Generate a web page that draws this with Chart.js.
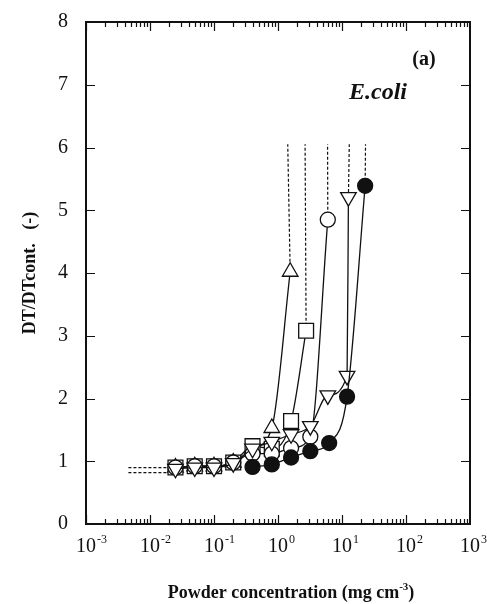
<!DOCTYPE html>
<html>
<head>
<meta charset="utf-8">
<script src="https://cdn.jsdelivr.net/npm/chart.js@4.4.1/dist/chart.umd.min.js"></script>
<style>
  html, body { margin: 0; padding: 0; background: #fff; }
  #wrap { width: 487px; height: 604px; }
</style>
</head>
<body>
<div id="wrap"><canvas id="one" width="487" height="604"></canvas></div>
<script>
  "use strict";

  // data (x = powder concentration mg/cm3, y = DT/DTcont.)
  var triUpX = [0.025, 0.05, 0.1, 0.2, 0.4, 0.8, 1.55];
  var triUpY = [0.9, 0.92, 0.92, 0.98, 1.2, 1.53, 4.02];

  var squareX = [0.025, 0.05, 0.1, 0.2, 0.4, 0.8, 1.6, 2.75];
  var squareY = [0.9, 0.92, 0.92, 0.98, 1.24, 1.2, 1.64, 3.08];

  var circleX = [0.025, 0.05, 0.1, 0.2, 0.4, 0.8, 1.6, 3.2, 6.0];
  var circleY = [0.9, 0.92, 0.92, 0.98, 1.12, 1.12, 1.21, 1.39, 4.85];

  var triDownX = [0.025, 0.05, 0.1, 0.2, 0.4, 0.8, 1.6, 3.2, 6.0, 12.0, 12.6];
  var triDownY = [0.88, 0.9, 0.9, 0.97, 1.2, 1.31, 1.43, 1.56, 2.05, 2.36, 5.21];

  var dotX = [0.4, 0.8, 1.6, 3.2, 6.3, 12.0, 23];
  var dotY = [0.91, 0.95, 1.06, 1.16, 1.29, 2.03, 5.39];

  // dashed asymptote lines (start point -> end point)
  var dashUpX = [[1.55, 1.42], [2.75, 2.65], [6.0, 5.95], [12.6, 13.0], [23, 23.3]];
  var dashUpY = [[4.02, 6.05], [3.08, 6.05], [4.85, 6.05], [5.21, 6.05], [5.39, 6.05]];
  var dashLeftX = [[0.0046, 0.025], [0.0046, 0.025]];
  var dashLeftY = [[0.9, 0.9], [0.82, 0.82]];

  var yTicks = [0, 1, 2, 3, 4, 5, 6, 7, 8];
  var xExps = [-3, -2, -1, 0, 1, 2, 3];

  var SERIF = "'Liberation Serif', 'Times New Roman', serif";
  var INK = "#111";

  function pts(xs, ys) {
    return xs.map(function (v, i) { return { x: v, y: ys[i] }; });
  }

  function series(xs, ys, style, rot, fill, r) {
    return {
      data: pts(xs, ys),
      borderColor: INK,
      borderWidth: 1.3,
      cubicInterpolationMode: "monotone",
      pointStyle: style,
      rotation: rot,
      pointRadius: r,
      pointBorderWidth: 1.3,
      pointBorderColor: INK,
      pointBackgroundColor: fill,
      order: 1
    };
  }

  function dashed(xs, ys) {
    return {
      data: pts(xs, ys),
      borderColor: INK,
      borderWidth: 1.2,
      borderDash: [3, 2],
      pointRadius: 0,
      order: 2
    };
  }

  var datasets = [];
  dashUpX.forEach(function (xs, i) { datasets.push(dashed(xs, dashUpY[i])); });
  dashLeftX.forEach(function (xs, i) { datasets.push(dashed(xs, dashLeftY[i])); });
  datasets.push(series(dotX, dotY, "circle", 0, INK, 7.5));
  datasets.push(series(triDownX, triDownY, "triangle", 180, "#fff", 9));
  datasets.push(series(circleX, circleY, "circle", 0, "#fff", 7.5));
  datasets.push(series(squareX, squareY, "rect", 0, "#fff", 10.5));
  datasets.push(series(triUpX, triUpY, "triangle", 0, "#fff", 9));

  // frame, inward ticks, x labels with superscripts, annotations
  var frame = {
    id: "frame",
    afterDraw: function (chart) {
      var ctx = chart.ctx, a = chart.chartArea;
      var x = chart.scales.x, y = chart.scales.y;
      ctx.save();
      ctx.strokeStyle = INK;
      ctx.lineWidth = 2;
      ctx.strokeRect(a.left, a.top, a.right - a.left, a.bottom - a.top);

      ctx.lineWidth = 1.2;
      ctx.beginPath();
      for (var e = -3; e < 3; e++) {
        for (var k = 1; k < 10; k++) {
          var px = Math.round(x.getPixelForValue(k * Math.pow(10, e))) + 0.5;
          var len = k === 1 ? 9 : 5;
          ctx.moveTo(px, a.bottom); ctx.lineTo(px, a.bottom - len);
          ctx.moveTo(px, a.top); ctx.lineTo(px, a.top + len);
        }
      }
      yTicks.forEach(function (v) {
        var py = Math.round(y.getPixelForValue(v)) + 0.5;
        ctx.moveTo(a.left, py); ctx.lineTo(a.left + 9, py);
        ctx.moveTo(a.right, py); ctx.lineTo(a.right - 9, py);
      });
      ctx.stroke();

      ctx.fillStyle = INK;
      ctx.textBaseline = "alphabetic";
      xExps.forEach(function (ex) {
        var px = x.getPixelForValue(Math.pow(10, ex));
        ctx.font = "20px " + SERIF;
        ctx.textAlign = "center";
        ctx.fillText("10", px, 552);
        var w = ctx.measureText("10").width;
        ctx.font = "12px " + SERIF;
        ctx.textAlign = "left";
        ctx.fillText(String(ex), px + w / 2 + 1, 543);
      });

      ctx.font = "bold 18px " + SERIF;
      ctx.textAlign = "left";
      var t1 = "Powder concentration (mg cm";
      var w1 = ctx.measureText(t1).width;
      ctx.font = "bold 11px " + SERIF;
      var w2 = ctx.measureText("-3").width;
      ctx.font = "bold 18px " + SERIF;
      var w3 = ctx.measureText(")").width;
      var sx = 291 - (w1 + w2 + w3) / 2;
      ctx.fillText(t1, sx, 598);
      ctx.font = "bold 11px " + SERIF;
      ctx.fillText("-3", sx + w1, 590);
      ctx.font = "bold 18px " + SERIF;
      ctx.fillText(")", sx + w1 + w2, 598);

      ctx.textAlign = "center";
      ctx.font = "bold 20px " + SERIF;
      ctx.fillText("(a)", 424, 65);
      ctx.font = "italic bold 24px " + SERIF;
      ctx.fillText("E.coli", 378, 99);
      ctx.restore();
    }
  };

  var myChart1 = new Chart(document.getElementById("one").getContext("2d"), {
    type: "line",
    data: { datasets: datasets },
    options: {
      responsive: false,
      animation: false,
      layout: { padding: { top: 12, right: 17, left: 0, bottom: 0 } },
      plugins: { legend: { display: false }, tooltip: { enabled: false } },
      scales: {
        x: {
          type: "logarithmic",
          min: 0.001,
          max: 1000,
          grid: { display: false },
          border: { display: false },
          ticks: { display: false },
          afterFit: function (s) { s.height = 80; }
        },
        y: {
          min: 0,
          max: 8,
          grid: { display: false },
          border: { display: false },
          ticks: {
            stepSize: 1,
            color: INK,
            padding: 10,
            font: { family: SERIF, size: 20 }
          },
          title: {
            display: true,
            text: "DT/DTcont.   (-)",
            color: INK,
            padding: { top: 20, bottom: 0 },
            font: { family: SERIF, size: 18, weight: "bold" }
          },
          afterFit: function (s) { s.width = 86; }
        }
      }
    },
    plugins: [frame]
  });
</script>
</body>
</html>
